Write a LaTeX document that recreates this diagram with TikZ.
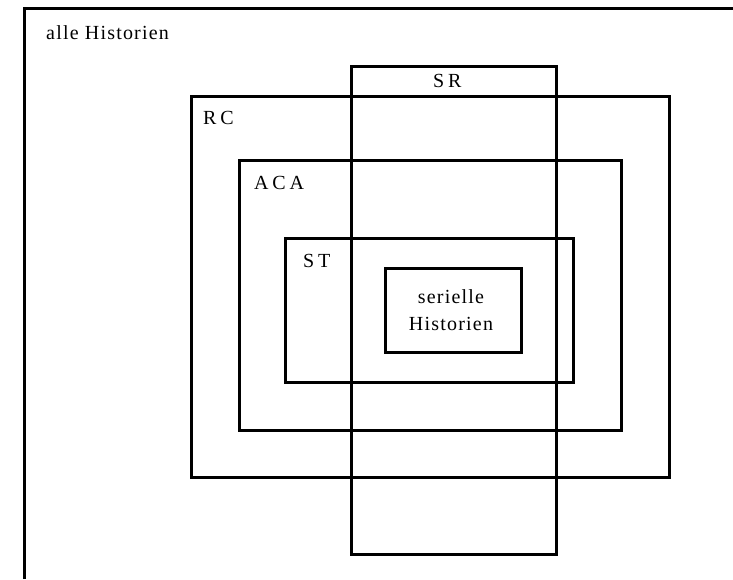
\documentclass[tikz,border=0pt]{standalone}
\usepackage{fontspec}
\setmainfont[LetterSpace=6]{Liberation Serif}
\newfontfamily\capsfont[LetterSpace=19]{Liberation Serif}
\begin{document}
\begin{tikzpicture}[x=1pt,y=-1pt,
  setbox/.style={draw=black,line width=3pt},
  txt/.style={font=\fontsize{20}{27}\selectfont,inner sep=0pt},
  lbl/.style={font=\fontsize{20}{27}\selectfont\capsfont,inner sep=0pt,anchor=base west}]
\useasboundingbox (0,0) rectangle (733,579);
\coordinate (fa) at (24,579);
\coordinate (fb) at (24,8);
\coordinate (fc) at (733,8);
\draw[line width=3pt] (fa) -- (fb) -- (fc);
\node[txt,anchor=base west] (all) at (46,39) {alle Historien};
\draw[setbox] (191,96) rectangle (669,477);
\draw[setbox] (239,160) rectangle (621,430);
\draw[setbox] (285,238) rectangle (573,382);
\draw[setbox] (351,66) rectangle (556,554);
\draw[setbox] (385,268) rectangle (521,352);
\node[lbl] (rc) at (203,124) {RC};
\node[lbl] (aca) at (254,189) {ACA};
\node[lbl] (st) at (303,267) {ST};
\node[lbl] (sr) at (433,87) {SR};
\node[txt,align=center] (ser) at (451,310) {serielle\\Historien};
\end{tikzpicture}
\end{document}
